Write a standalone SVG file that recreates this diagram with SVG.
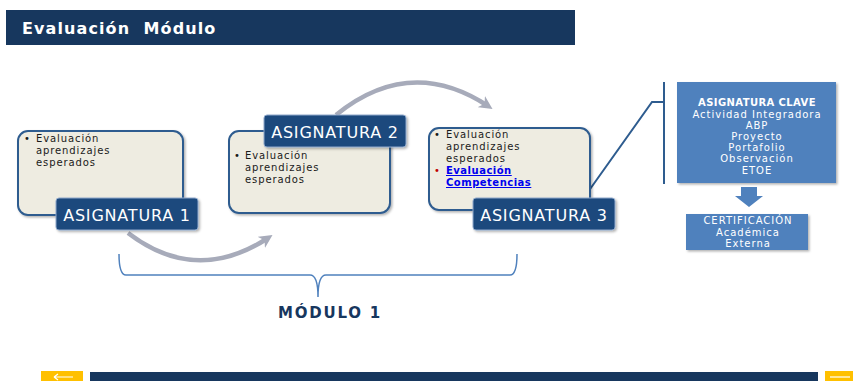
<svg xmlns="http://www.w3.org/2000/svg" width="853" height="381" viewBox="0 0 853 381">
  <style>
    .sans { font-family: "DejaVu Sans", Verdana, sans-serif; }
    .card { fill: #EEECE1; stroke: #2E5C8F; stroke-width: 2; }
    .tag { fill: #1F497D; stroke: #8EA9CC; stroke-width: 1; }
    .tagtext { fill: #FFFFFF; font-size: 16px; letter-spacing: 0.8px; text-anchor: middle; }
    .body { fill: #1A1A1A; font-size: 10px; letter-spacing: 0.9px; }
    .flow { fill: none; stroke: #A7ABBA; stroke-width: 4.5; }
    .keybox { fill: #4F81BD; }
    .keytext { fill: #FFFFFF; font-size: 10px; letter-spacing: 1px; text-anchor: middle; }
  </style>
  <defs>
    <filter id="shadow" x="-10%" y="-10%" width="130%" height="130%">
      <feDropShadow dx="1.5" dy="1.5" stdDeviation="1.2" flood-color="#000" flood-opacity="0.3"/>
    </filter>
    <marker id="chev" viewBox="0 0 10 10" refX="6" refY="5" markerWidth="3" markerHeight="3" orient="auto">
      <path d="M0,0 L10,5 L0,10 L3,5 Z" fill="#A7ABBA"/>
    </marker>
  </defs>

  <rect width="853" height="381" fill="#FFFFFF"/>

  <!-- header -->
  <g id="header">
    <rect x="6" y="10" width="569" height="35" fill="#17375E"/>
    <text x="22" y="34" class="sans" font-size="16" font-weight="bold" letter-spacing="1.1" fill="#FFFFFF" xml:space="preserve">Evaluación  Módulo</text>
  </g>

  <!-- connectors -->
  <g id="connectors">
    <path class="flow" d="M128,233 Q196,285 268,238" marker-end="url(#chev)"/>
    <path class="flow" d="M336,115 Q410,55 488,106" marker-end="url(#chev)"/>
    <!-- bracket under the three subjects -->
    <path d="M119,254 Q119,275 126,275 L310,275 Q318,275 318,297 Q318,275 326,275 L510,275 Q517,275 517,254" fill="none" stroke="#4F81BD" stroke-width="1.5"/>
    <!-- link to key subject -->
    <path d="M583,199 L652,102 L664,102" fill="none" stroke="#2E5C8F" stroke-width="2"/>
    <line x1="664" y1="82" x2="664" y2="184" stroke="#2E5C8F" stroke-width="2"/>
    <!-- down block arrow -->
    <path d="M741,187 L757,187 L757,196 L763,196 L749,207 L735,196 L741,196 Z" fill="#4F81BD"/>
  </g>

  <!-- subject 1 -->
  <g id="asignatura1">
    <rect class="card" x="18" y="131" width="165" height="84" rx="10" filter="url(#shadow)"/>
    <g class="sans body">
      <text x="24" y="142">•</text>
      <text x="36" y="142">Evaluación</text>
      <text x="36" y="154">aprendizajes</text>
      <text x="36" y="166">esperados</text>
    </g>
    <rect class="tag" x="56" y="198" width="142" height="32" rx="3" filter="url(#shadow)"/>
    <text x="127" y="221" class="sans tagtext">ASIGNATURA 1</text>
  </g>

  <!-- subject 2 -->
  <g id="asignatura2">
    <rect class="card" x="229" y="131" width="161" height="82" rx="10" filter="url(#shadow)"/>
    <g class="sans body">
      <text x="234" y="159">•</text>
      <text x="245" y="159">Evaluación</text>
      <text x="245" y="171">aprendizajes</text>
      <text x="245" y="183">esperados</text>
    </g>
    <rect class="tag" x="264" y="115" width="142" height="32" rx="3" filter="url(#shadow)"/>
    <text x="335" y="138" class="sans tagtext">ASIGNATURA 2</text>
  </g>

  <!-- subject 3 -->
  <g id="asignatura3">
    <rect class="card" x="429" y="128" width="161" height="82" rx="10" filter="url(#shadow)"/>
    <g class="sans body">
      <text x="434" y="138">•</text>
      <text x="446" y="138">Evaluación</text>
      <text x="446" y="150">aprendizajes</text>
      <text x="446" y="162">esperados</text>
      <text x="434" y="174" fill="#C00000">•</text>
      <text x="446" y="174" fill="#0000EE" font-weight="bold" letter-spacing="0.5" text-decoration="underline">Evaluación</text>
      <text x="446" y="186" fill="#0000EE" font-weight="bold" letter-spacing="0.5" text-decoration="underline">Competencias</text>
    </g>
    <rect class="tag" x="473" y="198" width="142" height="32" rx="3" filter="url(#shadow)"/>
    <text x="544" y="221" class="sans tagtext">ASIGNATURA 3</text>
  </g>

  <!-- module label -->
  <g id="modulo">
    <text x="330" y="318" class="sans" font-size="15" font-weight="bold" letter-spacing="1.8" fill="#17375E" text-anchor="middle">MÓDULO 1</text>
  </g>

  <!-- key subject -->
  <g id="asignatura-clave">
    <rect class="keybox" x="677" y="82" width="159" height="101" filter="url(#shadow)"/>
    <g class="sans keytext">
      <text x="757" y="106" font-weight="bold" letter-spacing="0.4">ASIGNATURA CLAVE</text>
      <text x="757" y="118">Actividad Integradora</text>
      <text x="757" y="129">ABP</text>
      <text x="757" y="140">Proyecto</text>
      <text x="757" y="151">Portafolio</text>
      <text x="757" y="162">Observación</text>
      <text x="757" y="174">ETOE</text>
    </g>
  </g>

  <!-- certification -->
  <g id="certificacion">
    <rect class="keybox" x="686" y="214" width="122" height="36" filter="url(#shadow)"/>
    <g class="sans keytext">
      <text x="748" y="224">CERTIFICACIÓN</text>
      <text x="748" y="236">Académica</text>
      <text x="748" y="247">Externa</text>
    </g>
  </g>

  <!-- footer -->
  <g id="footer">
    <rect x="41" y="371" width="42" height="10" fill="#FFC000"/>
    <path d="M54,377 L73,377 M54,377 L58,374 M54,377 L58,380" stroke="#FFFFFF" stroke-width="1.2" fill="none"/>
    <rect x="90" y="372" width="728" height="9" fill="#17375E"/>
    <rect x="825" y="371" width="28" height="10" fill="#FFC000"/>
    <path d="M830,377 L850,377" stroke="#FFFFFF" stroke-width="1.2" fill="none"/>
  </g>
</svg>
